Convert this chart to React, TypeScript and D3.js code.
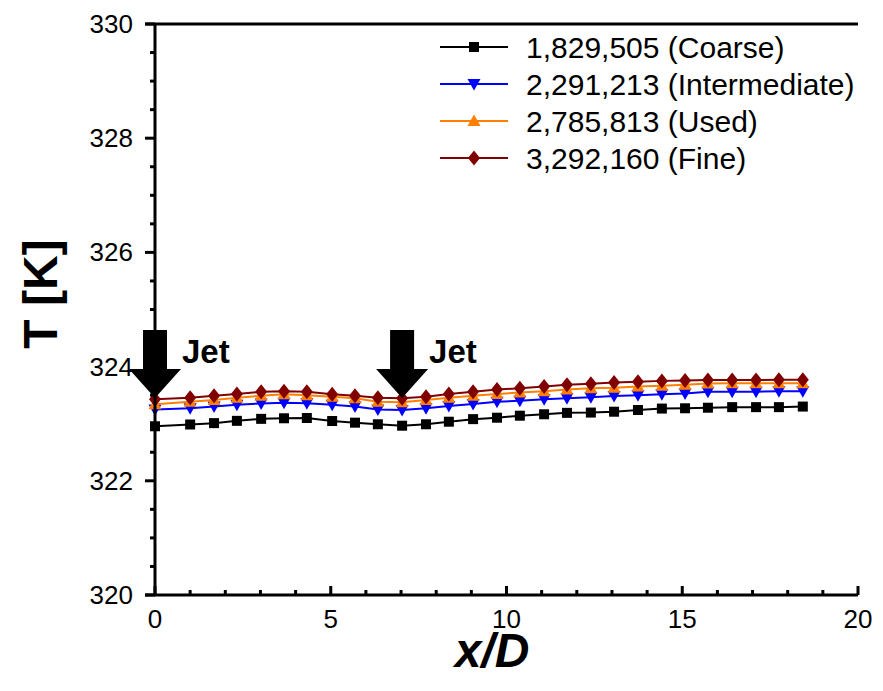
import React from "react";
import * as d3 from "d3";

const xValues = [0, 1.0, 1.68, 2.33, 3.02, 3.67, 4.32, 5.04, 5.69, 6.34, 7.03, 7.71, 8.36, 9.05, 9.73, 10.38, 11.07, 11.72, 12.4, 13.06, 13.74, 14.42, 15.08, 15.73, 16.42, 17.1, 17.75, 18.43];

const coarse = [322.955, 322.986, 323.01, 323.05, 323.085, 323.095, 323.1, 323.047, 323.018, 322.99, 322.965, 322.99, 323.035, 323.08, 323.105, 323.14, 323.165, 323.19, 323.195, 323.21, 323.24, 323.265, 323.27, 323.28, 323.29, 323.29, 323.29, 323.3];
const intermediate = [323.25, 323.27, 323.3, 323.33, 323.355, 323.368, 323.357, 323.33, 323.3, 323.25, 323.24, 323.27, 323.31, 323.345, 323.385, 323.4, 323.43, 323.445, 323.465, 323.485, 323.5, 323.515, 323.53, 323.56, 323.56, 323.56, 323.57, 323.57];
const used = [323.34, 323.385, 323.415, 323.455, 323.49, 323.515, 323.5, 323.47, 323.445, 323.385, 323.375, 323.415, 323.455, 323.49, 323.52, 323.545, 323.57, 323.6, 323.62, 323.63, 323.65, 323.665, 323.68, 323.705, 323.71, 323.71, 323.71, 323.71];
const fine = [323.43, 323.455, 323.49, 323.52, 323.56, 323.57, 323.56, 323.515, 323.49, 323.455, 323.445, 323.47, 323.52, 323.56, 323.6, 323.62, 323.65, 323.68, 323.7, 323.72, 323.735, 323.75, 323.755, 323.765, 323.765, 323.765, 323.77, 323.77];

const seriesNames = ["1,829,505 (Coarse)", "2,291,213 (Intermediate)", "2,785,813 (Used)", "3,292,160 (Fine)"];
const seriesColors = ["#000000", "#0000ff", "#ff8000", "#800000"];
const seriesMarkers = ["square", "triDown", "triUp", "diamond"];

const xTicks = [0, 5, 10, 15, 20];
const yTicks = [320, 322, 324, 326, 328, 330];
const jetX = [0, 7.03];
const jetTipT = 323.45;
const jetHeadT = 323.96;
const jetTopT = 324.64;

const FONT = "Arial, 'Liberation Sans', sans-serif";

function Marker({ type, x, y, color }: { type: string; x: number; y: number; color: string }) {
  if (type === "square") return <rect x={x - 5} y={y - 5} width={10} height={10} fill={color} />;
  if (type === "triDown") return <path d={`M${x - 6.5},${y - 5}L${x + 6.5},${y - 5}L${x},${y + 6.5}Z`} fill={color} />;
  if (type === "triUp") return <path d={`M${x - 6.5},${y + 5}L${x + 6.5},${y + 5}L${x},${y - 6.5}Z`} fill={color} />;
  return <path d={`M${x},${y - 7.5}L${x + 6},${y}L${x},${y + 7.5}L${x - 6},${y}Z`} fill={color} />;
}

export default function App() {
  const left = 155, right = 858, top = 24, bottom = 595;
  const x = d3.scaleLinear().domain([0, 20]).range([left, right]);
  const y = d3.scaleLinear().domain([320, 330]).range([bottom, top]);
  const data = [coarse, intermediate, used, fine];
  const line = d3.line<number>().x((_, i) => x(xValues[i])).y((d) => y(d));
  const xMinor = d3.range(0, 20.001, 1).filter((v) => v % 5 !== 0);
  const yMinor = d3.range(320, 330.001, 0.5).filter((v) => Math.abs(v % 2) > 1e-6);

  return (
    <svg width={883} height={691} style={{ position: "absolute", left: 0, top: 0, background: "#fff" }} fontFamily={FONT}>
      <rect width={883} height={691} fill="#fff" />
      {data.map((s, si) => (
        <g key={si}>
          <path d={line(s) || ""} fill="none" stroke={seriesColors[si]} strokeWidth={2} />
          {s.map((v, i) => (
            <Marker key={i} type={seriesMarkers[si]} x={x(xValues[i])} y={y(v)} color={seriesColors[si]} />
          ))}
        </g>
      ))}
      {jetX.map((jx, i) => {
        const cx = x(jx);
        const tip = y(jetTipT), head = y(jetHeadT), topY = y(jetTopT);
        return (
          <g key={i}>
            <path d={`M${cx - 12},${topY}L${cx + 12},${topY}L${cx + 12},${head}L${cx + 26},${head}L${cx},${tip}L${cx - 26},${head}L${cx - 12},${head}Z`} fill="#000" />
            <text x={cx + 27} y={363} fontSize={33} fontWeight="bold" fill="#000">Jet</text>
          </g>
        );
      })}
      <line x1={left - 10} x2={right} y1={top} y2={top} stroke="#000" strokeWidth={3} />
      <line x1={left} x2={left} y1={top} y2={bottom} stroke="#000" strokeWidth={3} />
      <line x1={left - 10} x2={right} y1={bottom} y2={bottom} stroke="#000" strokeWidth={3} />
      {yTicks.map((t) => (
        <g key={t}>
          <line x1={left - 10} x2={left} y1={y(t)} y2={y(t)} stroke="#000" strokeWidth={3} />
          <text x={left - 22} y={y(t) + 9} fontSize={26} textAnchor="end">{t}</text>
        </g>
      ))}
      {yMinor.map((t) => (
        <line key={t} x1={left - 5} x2={left} y1={y(t)} y2={y(t)} stroke="#000" strokeWidth={3} />
      ))}
      {xTicks.map((t) => (
        <g key={t}>
          <line x1={x(t)} x2={x(t)} y1={bottom} y2={bottom - 9} stroke="#000" strokeWidth={3} />
          <text x={x(t)} y={628} fontSize={26} textAnchor="middle">{t}</text>
        </g>
      ))}
      {xMinor.map((t) => (
        <line key={t} x1={x(t)} x2={x(t)} y1={bottom} y2={bottom - 5} stroke="#000" strokeWidth={3} />
      ))}
      <text x={492} y={667} fontSize={48} fontWeight="bold" fontStyle="italic" textAnchor="middle">x/D</text>
      <text transform="translate(57,294) rotate(-90)" fontSize={48} fontWeight="bold" textAnchor="middle">T [K]</text>
      {seriesNames.map((n, i) => {
        const ly = 47 + i * 37;
        return (
          <g key={n}>
            <line x1={440} x2={508} y1={ly} y2={ly} stroke={seriesColors[i]} strokeWidth={2} />
            <Marker type={seriesMarkers[i]} x={474} y={ly} color={seriesColors[i]} />
            <text x={526} y={ly + 10.5} fontSize={30}>{n}</text>
          </g>
        );
      })}
    </svg>
  );
}
